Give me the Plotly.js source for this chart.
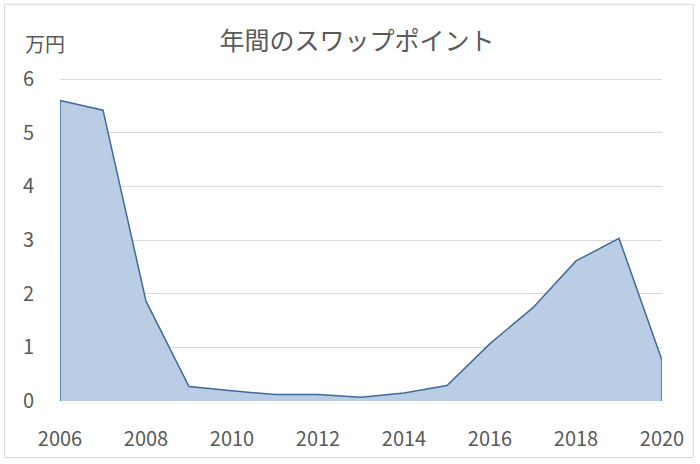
<!DOCTYPE html>
<html>
<head>
<meta charset="utf-8">
<script src="https://cdn.plot.ly/plotly-3.0.1.min.js"></script>
<style>
  html, body { margin: 0; padding: 0; background: #fff; }
  #chart { width: 700px; height: 464px; }
</style>
</head>
<body>
<div id="chart"></div>
<script>
const years = [2006, 2007, 2008, 2009, 2010, 2011, 2012, 2013, 2014, 2015, 2016, 2017, 2018, 2019, 2020];
const swapPoints = [5.60, 5.42, 1.86, 0.27, 0.19, 0.12, 0.12, 0.07, 0.15, 0.29, 1.07, 1.74, 2.61, 3.03, 0.76];
const xTicks = [2006, 2008, 2010, 2012, 2014, 2016, 2018, 2020];
const yTicks = [0, 1, 2, 3, 4, 5, 6];

const fontFamily = '"Noto Sans CJK JP", "Open Sans", sans-serif';
const textColor = '#595959';

const trace = {
  x: years,
  y: swapPoints,
  type: 'scatter',
  mode: 'lines',
  fill: 'tozeroy',
  fillcolor: '#b9cee5',
  line: { color: '#41699c', width: 1.5 },
  hoverinfo: 'x+y',
};

// vertical edges at both ends, like the Excel area chart
const edges = [0, years.length - 1].map((i) => ({
  x: [years[i], years[i]],
  y: [0, swapPoints[i]],
  type: 'scatter',
  mode: 'lines',
  line: { color: '#41699c', width: 1.5 },
  hoverinfo: 'skip',
}));

const layout = {
  width: 700,
  height: 464,
  margin: { l: 60, r: 38, t: 78, b: 63 },
  paper_bgcolor: '#fff',
  plot_bgcolor: '#fff',
  showlegend: false,
  font: { family: fontFamily, color: textColor, size: 20 },
  title: {
    text: '年間のスワップポイント',
    font: { family: fontFamily, size: 25, color: textColor },
    x: 0.51,
    xanchor: 'center',
    y: 0.912,
    yanchor: 'middle',
  },
  xaxis: {
    range: [2006, 2020],
    tickvals: xTicks,
    ticktext: xTicks.map(String),
    showgrid: false,
    zeroline: false,
    showline: false,
    ticks: 'outside',
    ticklen: 20,
    tickcolor: 'rgba(0,0,0,0)',
    tickfont: { size: 20, color: textColor },
    automargin: false,
  },
  yaxis: {
    range: [0, 6.02],
    tickvals: yTicks,
    ticktext: yTicks.map(String),
    showgrid: true,
    gridcolor: '#d9d9d9',
    gridwidth: 1,
    zeroline: false,
    showline: false,
    ticks: 'outside',
    ticklen: 21,
    tickcolor: 'rgba(0,0,0,0)',
    tickfont: { size: 20, color: textColor },
    automargin: false,
  },
  annotations: [
    {
      text: '万円',
      xref: 'paper',
      yref: 'paper',
      x: -0.062,
      y: 1.108,
      xanchor: 'left',
      yanchor: 'middle',
      showarrow: false,
      font: { family: fontFamily, size: 20, color: textColor },
    },
  ],
  shapes: [
    {
      type: 'rect',
      xref: 'paper',
      yref: 'paper',
      x0: -0.092, x1: 1.052,
      y0: -0.175, y1: 1.228,
      line: { color: '#d9d9d9', width: 1 },
    },
  ],
};

Plotly.newPlot('chart', [trace, ...edges], layout, { displayModeBar: false, staticPlot: true });
</script>
</body>
</html>
